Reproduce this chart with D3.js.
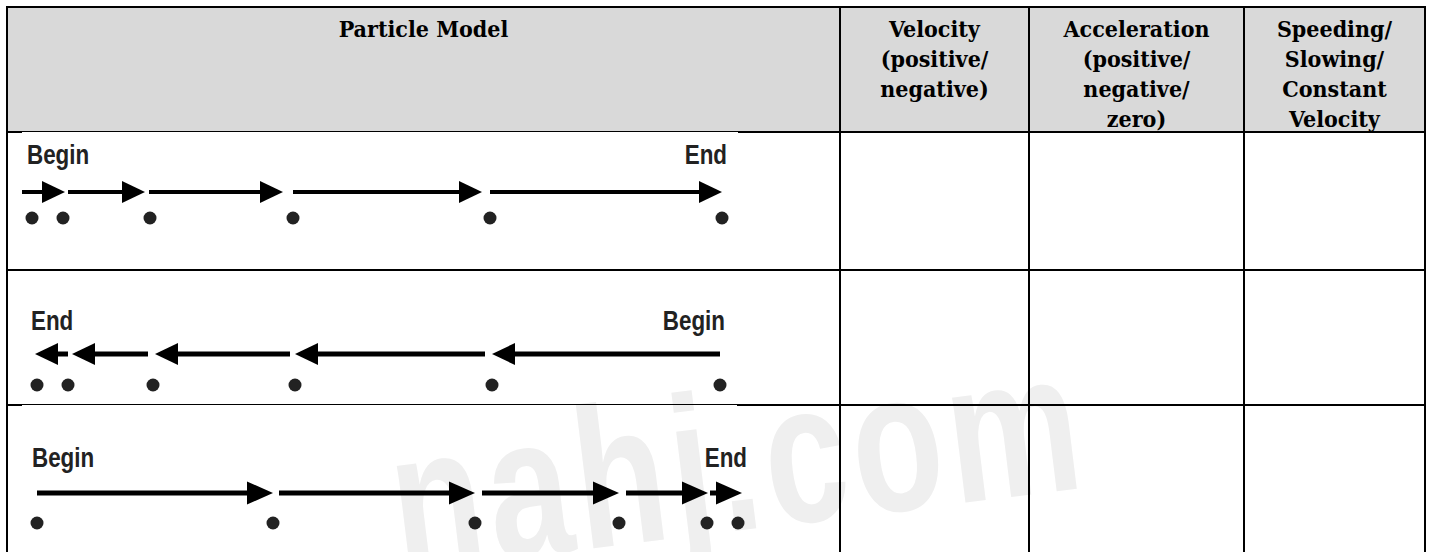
<!DOCTYPE html>
<html>
<head>
<meta charset="utf-8">
<script src="https://cdn.jsdelivr.net/npm/d3@7/dist/d3.min.js"></script>
<style>
  html, body { margin: 0; padding: 0; background: #ffffff; }
  svg { display: block; }
</style>
</head>
<body>
<svg id="chart" width="1429" height="552"></svg>
<script>
// ---------------- DATA ----------------
const headerCols = ["Particle Model", "Velocity", "Acceleration", "Speeding"];
const headerLines = [
  ["Particle Model"],
  ["Velocity", "(positive/", "negative)"],
  ["Acceleration", "(positive/", "negative/", "zero)"],
  ["Speeding/", "Slowing/", "Constant", "Velocity"]
];
const rowNames = ["speeding up right", "slowing down left", "slowing down right"];
const startLabels = ["Begin", "End", "Begin"];   // left-hand label of each row
const endLabels   = ["End", "Begin", "End"];     // right-hand label of each row
const directions  = ["right", "left", "right"];

// dot positions along the track (track units)
const dotsRow1 = [10, 41, 128, 271, 468, 700];
const dotsRow2 = [15, 46, 131, 273, 470, 698];
const dotsRow3 = [15, 251, 453, 597, 685, 716];

// arrow tails and heads along the track (track units)
const arrowTailsRow1 = [0, 46, 127, 271, 468];
const arrowHeadsRow1 = [43, 123, 261, 460, 700];
const arrowTailsRow2 = [46, 126, 268, 463, 698];
const arrowHeadsRow2 = [13, 50, 133, 273, 470];
const arrowTailsRow3 = [15, 257, 460, 604, 688];
const arrowHeadsRow3 = [251, 453, 597, 686, 720];

const watermarkText = "nahj.com";

// ---------------- LAYOUT ----------------
const svg = d3.select("#chart");
const colEdges = [7, 840, 1029, 1244, 1425];
const rowEdges = [7, 132, 270, 405];
const bottomY = 553;

const rows = [
  { dots: dotsRow1, tails: arrowTailsRow1, heads: arrowHeadsRow1, labelY: 164, arrowY: 192, dotY: 218, shaft: 4, headL: 23, headH: 22 },
  { dots: dotsRow2, tails: arrowTailsRow2, heads: arrowHeadsRow2, labelY: 330, arrowY: 354, dotY: 385, shaft: 5, headL: 23, headH: 22 },
  { dots: dotsRow3, tails: arrowTailsRow3, heads: arrowHeadsRow3, labelY: 467, arrowY: 493, dotY: 523, shaft: 5, headL: 26, headH: 23 }
];
rows.forEach((r, i) => { r.start = startLabels[i]; r.end = endLabels[i]; r.dir = directions[i]; r.name = rowNames[i]; });

// track scale: track units -> pixels inside the Particle Model column
const x = d3.scaleLinear().domain([0, 720]).range([22, 742]);
const colBand = d3.scaleOrdinal().domain(headerCols).range(headerCols.map((c, i) => (colEdges[i] + colEdges[i + 1]) / 2));

// header background
svg.append("rect")
  .attr("x", colEdges[0]).attr("y", rowEdges[0])
  .attr("width", colEdges[4] - colEdges[0]).attr("height", rowEdges[1] - rowEdges[0])
  .attr("fill", "#d9d9d9");

// watermark (condensed by a horizontal squeeze, tilted)
svg.append("g")
  .attr("transform", "translate(400,572) rotate(-7) scale(0.74,1)")
  .append("text")
  .attr("x", 0).attr("y", 0)
  .attr("font-family", "'Liberation Sans', sans-serif")
  .attr("font-weight", "bold")
  .attr("font-size", 200)
  .attr("letter-spacing", 8)
  .attr("fill", "#efefef")
  .text(watermarkText);

// header text
const hdr = svg.append("g").attr("font-family", "'DejaVu Serif Condensed', 'DejaVu Serif', serif")
  .attr("font-weight", "bold").attr("font-size", 23).attr("fill", "#000").attr("text-anchor", "middle");
headerLines.forEach((lines, ci) => {
  hdr.append("text")
    .attr("x", colBand(headerCols[ci]))
    .attr("y", 37)
    .selectAll("tspan").data(lines).join("tspan")
      .attr("x", colBand(headerCols[ci]))
      .attr("dy", (d, i) => i === 0 ? 0 : 30)
      .text(d => d);
});

// particle model rows
const lab = { family: "'Liberation Sans', sans-serif", size: 28, squeeze: 0.8 };
function label(g, txt, xPos, y, anchor) {
  g.append("g").attr("transform", `translate(${xPos},${y}) scale(${lab.squeeze},1)`)
    .append("text").attr("x", 0).attr("y", 0).attr("text-anchor", anchor)
    .attr("font-family", lab.family).attr("font-weight", "bold")
    .attr("font-size", lab.size).attr("fill", "#222").text(txt);
}
rows.forEach((r) => {
  const g = svg.append("g").attr("class", "row");
  label(g, r.start, r.dir === "right" ? x(r.dots[0]) - 5 : x(r.heads[0]) - 4, r.labelY, "start");
  label(g, r.end, x(d3.max(r.dir === "right" ? r.heads : r.tails)) + 5, r.labelY, "end");
  // arrows
  const arrows = r.tails.map((t, i) => ({ t: t, h: r.heads[i] }));
  g.selectAll("line.shaft").data(arrows).join("line").attr("class", "shaft")
    .attr("x1", d => x(d.t))
    .attr("x2", d => { const s = Math.sign(x(d.h) - x(d.t)); return x(d.h) - s * (r.headL - 2); })
    .attr("y1", r.arrowY).attr("y2", r.arrowY)
    .attr("stroke", "#000").attr("stroke-width", r.shaft);
  g.selectAll("path.head").data(arrows).join("path").attr("class", "head")
    .attr("d", d => {
      const tip = x(d.h), s = Math.sign(x(d.h) - x(d.t));
      const base = tip - s * r.headL;
      return d3.line()([[tip, r.arrowY], [base, r.arrowY - r.headH / 2], [base, r.arrowY + r.headH / 2]]) + "Z";
    })
    .attr("fill", "#000");
  // dots
  g.selectAll("circle").data(r.dots).join("circle")
    .attr("cx", d => x(d)).attr("cy", r.dotY).attr("r", 6.5).attr("fill", "#222");
});

// grid lines
const grid = svg.append("g").attr("stroke", "#000").attr("fill", "none");
colEdges.forEach((cx) => {
  grid.append("line").attr("x1", cx).attr("x2", cx).attr("y1", rowEdges[0] - 1).attr("y2", bottomY).attr("stroke-width", 2);
});
// horizontals (the pictures in the first column overlap some rules with a thin line)
const thinSpans = { 1: [22, 738], 3: [22, 737] };
rowEdges.forEach((ry, i) => {
  if (thinSpans[i]) {
    const [a, b] = thinSpans[i];
    grid.append("line").attr("x1", colEdges[0] - 1).attr("x2", a).attr("y1", ry).attr("y2", ry).attr("stroke-width", 2);
    grid.append("line").attr("x1", a).attr("x2", b).attr("y1", ry - 0.5).attr("y2", ry - 0.5).attr("stroke-width", 1);
    grid.append("line").attr("x1", b).attr("x2", colEdges[4] + 1).attr("y1", ry).attr("y2", ry).attr("stroke-width", 2);
  } else {
    grid.append("line").attr("x1", colEdges[0] - 1).attr("x2", colEdges[4] + 1).attr("y1", ry).attr("y2", ry).attr("stroke-width", 2);
  }
});
</script>
</body>
</html>
